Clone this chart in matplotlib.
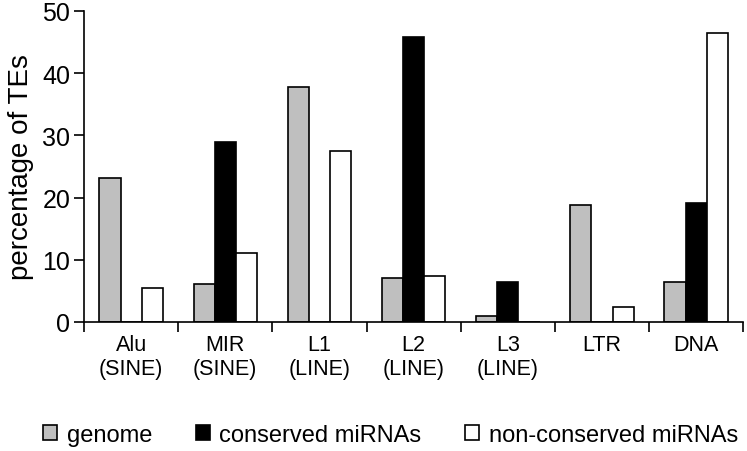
import matplotlib.pyplot as plt
import numpy as np

# data
categories = ["Alu\n(SINE)", "MIR\n(SINE)", "L1\n(LINE)", "L2\n(LINE)", "L3\n(LINE)", "LTR", "DNA"]
genome = [23.2, 6.1, 37.7, 7.1, 1.0, 18.8, 6.4]
conserved = [0, 29.0, 0, 45.8, 6.5, 0, 19.2]
non_conserved = [5.4, 11.1, 27.5, 7.4, 0, 2.4, 46.5]

plt.rcParams['font.family'] = ['Liberation Sans', 'DejaVu Sans']

fig = plt.figure(figsize=(7.47, 4.52), dpi=100)
ax = fig.add_axes([0.1125, 0.2854, 0.8825, 0.6881])

x = np.arange(len(categories))
w = 0.225
ax.bar(x - w, genome, w, color="#bfbfbf", edgecolor="black", linewidth=1.2, label="genome")
ax.bar(x, conserved, w, color="black", edgecolor="black", linewidth=1.2, label="conserved miRNAs")
ax.bar(x + w, non_conserved, w, color="white", edgecolor="black", linewidth=1.2, label="non-conserved miRNAs")

ax.set_xlim(-0.5, len(categories) - 0.5)
ax.set_ylim(0, 50)
ax.set_yticks([0, 10, 20, 30, 40, 50])
ax.tick_params(axis='y', labelsize=18, direction='out', length=7, width=1.2, pad=3)

# tick marks at group boundaries, labels at centres
ax.set_xticks(np.arange(len(categories) + 1) - 0.5)
ax.set_xticklabels([])
ax.set_xticks(x, minor=True)
ax.set_xticklabels(categories, minor=True, fontsize=15.5, linespacing=1.15)
ax.tick_params(axis='x', which='major', direction='out', length=7, width=1.2)
ax.tick_params(axis='x', which='minor', length=0, pad=9)

for s in ['top', 'right']:
    ax.spines[s].set_visible(False)
for s in ['left', 'bottom']:
    ax.spines[s].set_linewidth(1.2)

ax.set_ylabel("percentage of TEs", fontsize=20, labelpad=6)

fig.legend(loc='center', bbox_to_anchor=(0.523, 0.035), ncol=3, frameon=False,
           fontsize=17, handlelength=0.6, handleheight=0.6, handletextpad=0.4, columnspacing=1.85)

fig.savefig("out.png", dpi=100)
